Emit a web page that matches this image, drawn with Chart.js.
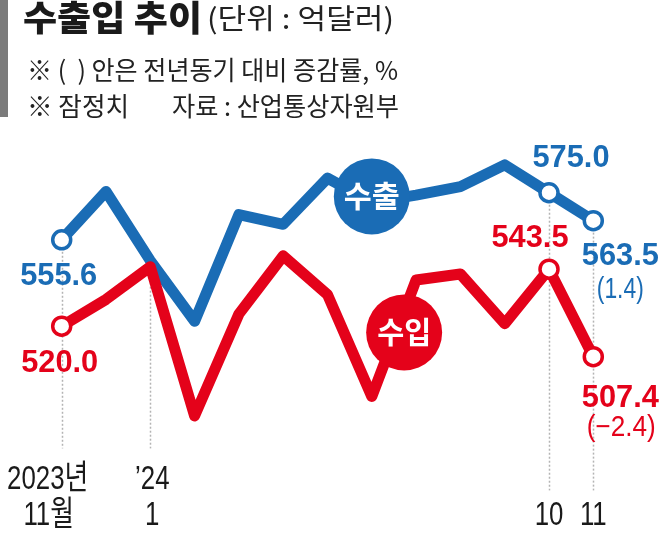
<!DOCTYPE html>
<html>
<head>
<meta charset="utf-8">
<script src="https://cdn.jsdelivr.net/npm/chart.js@4.4.1/dist/chart.umd.min.js"></script>
<style>
html,body{margin:0;padding:0;background:#fff;}
#wrap{position:relative;width:661px;height:533px;}
canvas{display:block;}
</style>
</head>
<body>
<div id="wrap"><canvas id="c" width="661" height="533"></canvas></div>
<script>
// ---- data ----
const months = ['2023-11','2023-12','2024-01','2024-02','2024-03','2024-04','2024-05','2024-06','2024-07','2024-08','2024-09','2024-10','2024-11'];
const exportVals = [555.6, 575.5, 547.0, 522.0, 566.0, 562.0, 581.0, 571.0, 574.0, 577.5, 586.5, 575.0, 563.5];
const importVals = [520.0, 531.0, 544.5, 483.0, 525.0, 549.0, 533.0, 491.0, 539.0, 541.5, 521.0, 543.5, 507.4];
const tickIndex = [0, 2, 11, 12];
const tickLine1 = ['2023년', '’24', '', ''];
const tickLine2 = ['11월', '1', '10', '11'];
const exportText = ['555.6', '575.0', '563.5'];
const importText = ['520.0', '543.5', '507.4'];
const labelIndex = [0, 11, 12];
const exportChange = '(1.4)';
const importChange = '(−2.4)';
const titleMain = '수출입 추이';
const titleUnit = '(단위 : 억달러)';
const note1 = '※ (  ) 안은 전년동기 대비 증감률, %';
const note2 = '※ 잠정치';
const source = '자료 : 산업통상자원부';
const exportName = '수출';
const importName = '수입';

const BLUE = '#1a6cb5';
const RED = '#e4021a';
const NUM = "bold 32px 'Liberation Sans', Arial, sans-serif";
const NUMR = "29px 'Liberation Sans', Arial, sans-serif";
const AX = "34px 'Liberation Sans', 'Noto Sans CJK KR', sans-serif";

function txt(ctx, s, x, y, font, color, align, width, sx) {
  ctx.save();
  ctx.font = font;
  ctx.fillStyle = color;
  ctx.textBaseline = 'alphabetic';
  ctx.textAlign = 'left';
  const w = ctx.measureText(s).width;
  const k = width ? width / w : (sx || 1);
  let x0 = x;
  if (align === 'center') x0 = x - w * k / 2;
  else if (align === 'right') x0 = x - w * k;
  ctx.translate(x0, y);
  ctx.scale(k, 1);
  ctx.fillText(s, 0, 0);
  ctx.restore();
}

const deco = {
  id: 'deco',
  beforeDatasetsDraw(chart) {
    const ctx = chart.ctx, xs = chart.scales.x, ys = chart.scales.y, ca = chart.chartArea;
    ctx.save();
    ctx.strokeStyle = '#b4b4b4';
    ctx.lineWidth = 1.5;
    ctx.setLineDash([2, 2]);
    const guides = [
      [0, ys.getPixelForValue(exportVals[0]), ca.bottom + 1],
      [2, ys.getPixelForValue(importVals[2]) + 4, ca.bottom + 1],
      [11, ys.getPixelForValue(exportVals[11]), ca.bottom + 43],
      [12, ys.getPixelForValue(exportVals[12]), ca.bottom + 43]
    ];
    guides.forEach(g => {
      const x = Math.round(xs.getPixelForValue(g[0])) + 0.5;
      ctx.beginPath(); ctx.moveTo(x, g[1]); ctx.lineTo(x, g[2]); ctx.stroke();
    });
    ctx.restore();
  },
  afterDatasetsDraw(chart) {
    const ctx = chart.ctx, xs = chart.scales.x, ys = chart.scales.y, ca = chart.chartArea;
    // header
    ctx.save();
    ctx.fillStyle = '#7b7b7b';
    ctx.fillRect(0, 0, 8, 117);
    ctx.restore();
    txt(ctx, titleMain, 23, 31, "900 35px 'Noto Sans CJK KR'", '#1a1a1a', 'left', 179);
    txt(ctx, titleUnit, 207, 29, "400 28px 'Noto Sans CJK KR'", '#222', 'left', 187);
    txt(ctx, note1, 27, 80, "400 26px 'Noto Sans CJK KR'", '#222', 'left', 371);
    txt(ctx, note2, 27, 116, "400 26px 'Noto Sans CJK KR'", '#222', 'left', 102);
    txt(ctx, source, 172, 116, "400 26px 'Noto Sans CJK KR'", '#222', 'left', 227);

    const px = i => xs.getPixelForValue(i);
    const pyE = i => ys.getPixelForValue(exportVals[i]);
    const pyI = i => ys.getPixelForValue(importVals[i]);

    // value labels
    const eOff = [[-3, 45], [22, -26], [27, 44.5]];
    const iOff = [[-2, 46], [-19, -22], [27, 50]];
    labelIndex.forEach((idx, k) => {
      txt(ctx, exportText[k], px(idx) + eOff[k][0], pyE(idx) + eOff[k][1], NUM, BLUE, 'center', 77);
      txt(ctx, importText[k], px(idx) + iOff[k][0], pyI(idx) + iOff[k][1], NUM, RED, 'center', 77);
    });
    txt(ctx, exportChange, px(12) + 27, pyE(12) + 77, NUMR, BLUE, 'center', 47);
    txt(ctx, importChange, px(12) + 28, pyI(12) + 79, NUMR, RED, 'center', 69);

    // series name bubbles
    const bx1 = px(7), by1 = pyE(7) - 6;
    ctx.save();
    ctx.fillStyle = BLUE;
    ctx.beginPath(); ctx.arc(bx1, by1, 38, 0, Math.PI * 2); ctx.fill();
    ctx.restore();
    txt(ctx, exportName, bx1, by1 + 11, "700 30px 'Noto Sans CJK KR'", '#fff', 'center', 56);

    const t = 0.73;
    const bx2 = px(7) * (1 - t) + px(8) * t;
    const by2 = (pyI(7) * (1 - t) + pyI(8) * t) + 21;
    ctx.save();
    ctx.fillStyle = RED;
    ctx.beginPath(); ctx.arc(bx2, by2, 38, 0, Math.PI * 2); ctx.fill();
    ctx.restore();
    txt(ctx, importName, bx2, by2 + 11, "700 30px 'Noto Sans CJK KR'", '#fff', 'center', 54);

    // x tick labels
    const tOff = [-14, 2, 0, 0];
    tickIndex.forEach((idx, k) => {
      const x = px(idx) + tOff[k];
      if (tickLine1[k]) txt(ctx, tickLine1[k], x, ca.bottom + 42, AX, '#1a1a1a', 'center', null, 0.76);
      if (tickLine2[k]) txt(ctx, tickLine2[k], x + (k === 0 ? 1 : 0), ca.bottom + 78, AX, '#1a1a1a', 'center', null, 0.76);
    });
  }
};

const ptR = arr => arr.map((v, i) => labelIndex.includes(i) ? 9 : 0);

new Chart(document.getElementById('c'), {
  type: 'line',
  data: {
    labels: months,
    datasets: [
      {
        label: importName, data: importVals, borderColor: RED, borderWidth: 11,
        pointRadius: ptR(importVals), pointBackgroundColor: '#fff', pointBorderColor: RED,
        pointBorderWidth: 3.5, pointHoverRadius: 0, tension: 0, borderJoinStyle: 'round', borderCapStyle: 'round', clip: false
      },
      {
        label: exportName, data: exportVals, borderColor: BLUE, borderWidth: 11,
        pointRadius: ptR(exportVals), pointBackgroundColor: '#fff', pointBorderColor: BLUE,
        pointBorderWidth: 3.5, pointHoverRadius: 0, tension: 0, borderJoinStyle: 'round', borderCapStyle: 'round', clip: false
      }
    ]
  },
  options: {
    responsive: false,
    animation: false,
    events: [],
    layout: { padding: { left: 61.7, right: 67.7, top: 132.1, bottom: 85.6 } },
    plugins: { legend: { display: false }, tooltip: { enabled: false } },
    scales: {
      x: { type: 'category', display: false, offset: false },
      y: { type: 'linear', display: false, min: 470, max: 600 }
    }
  },
  plugins: [deco]
});
</script>
</body>
</html>
